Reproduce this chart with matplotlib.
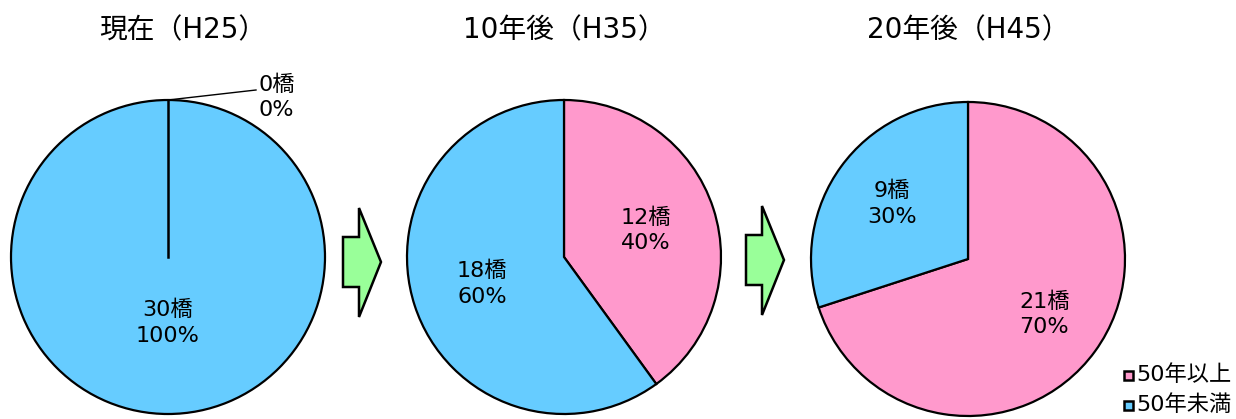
import matplotlib
matplotlib.use("Agg")
import numpy as np
import matplotlib.pyplot as plt
from matplotlib.patches import Polygon, Rectangle

# 数字は幅の広い DejaVu、漢字は Noto CJK にフォールバック
plt.rcParams['font.family'] = ['DejaVu Sans', 'Noto Sans CJK JP']

# データ
titles = ['現在（H25）', '10年後（H35）', '20年後（H45）']
legend_labels = ['50年以上', '50年未満']
over50 = [0, 12, 21]
under50 = [30, 18, 9]
colors = ['#FF99CC', '#66CCFF']

W, H = 1236, 419
fig = plt.figure(figsize=(W / 100, H / 100), dpi=100)
ax = fig.add_axes([0, 0, 1, 1])

centers = [(168, 162), (564, 162), (968, 160)]
radius = 157
pct_dist = [0.42, 0.55, 0.6]
title_dx = [15, 0, 0]

for i in range(3):
    vals = [over50[i], under50[i]]
    total = sum(vals)
    ax.pie(vals, colors=colors, startangle=90, counterclock=False,
           center=centers[i], radius=radius, frame=True,
           wedgeprops=dict(edgecolor='black', linewidth=1.6))

    # ラベル（0橋の扇形は境界線のみ）
    ang = 90.0
    for v in vals:
        sweep = 360.0 * v / total
        mid = np.radians(ang - sweep / 2)
        ang -= sweep
        if v == 0:
            ax.plot([centers[i][0], centers[i][0] + radius * np.cos(mid)],
                    [centers[i][1], centers[i][1] + radius * np.sin(mid)],
                    color='black', lw=1.8, zorder=3)
            continue
        x = centers[i][0] + radius * pct_dist[i] * np.cos(mid)
        y = centers[i][1] + radius * pct_dist[i] * np.sin(mid)
        ax.text(x, y, f'{v}橋\n{100 * v / total:.0f}%', ha='center', va='center',
                fontsize=16, linespacing=1.35)

    ax.text(centers[i][0] + title_dx[i], 389, titles[i], ha='center', va='center',
            fontsize=20)

# 0橋ラベル（引き出し線）
top = (centers[0][0], centers[0][1] + radius)
ax.plot([top[0], top[0] + 88], [top[1], top[1] + 10], color='black', lw=1)
ax.text(top[0] + 90, top[1] + 3, f'{over50[0]}橋\n0%', ha='left', va='center',
        fontsize=16, linespacing=1.3)

# 矢印
arrow_shape = [(0, 25), (16, 25), (16, 54), (38, 0), (16, -55), (16, -25), (0, -25)]
for ax0, ay0 in [(343, 157), (746, 159)]:
    ax.add_patch(Polygon([(ax0 + dx, ay0 + dy) for dx, dy in arrow_shape], closed=True,
                         facecolor='#99FF99', edgecolor='black', lw=1.8, zorder=3))

# 凡例
for k, (lab, c) in enumerate(zip(legend_labels, colors)):
    ly = 44 - k * 30
    ax.add_patch(Rectangle((1124, ly - 5), 9, 9, facecolor=c, edgecolor='black', lw=1.8))
    ax.text(1136, ly, lab, ha='left', va='center', fontsize=16)

ax.set_xlim(0, W)
ax.set_ylim(0, H)
ax.set_aspect('equal')
ax.axis('off')

fig.savefig('out.png', dpi=100)
